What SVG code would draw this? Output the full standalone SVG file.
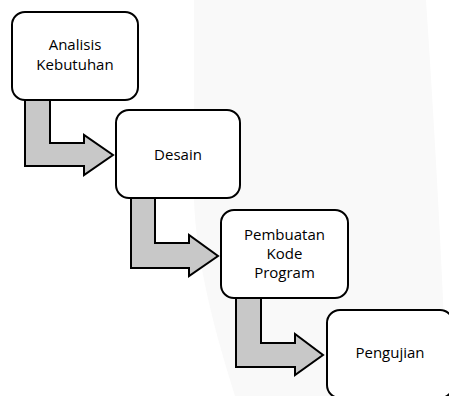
<svg xmlns="http://www.w3.org/2000/svg" width="449" height="396" viewBox="0 0 449 396">
<style>
.box{fill:#ffffff;stroke:#000000;stroke-width:2}
.arr{fill:#c8c8c8;stroke:#000000;stroke-width:2;stroke-linejoin:miter}
.t{font-family:"Open Sans","Liberation Sans",sans-serif;font-size:15px;fill:#000000;text-anchor:middle}
</style>
<rect x="0" y="0" width="449" height="396" fill="#ffffff"/>
<path d="M194,0 H426 C434,120 442,260 447,396 H235 C214,330 196,260 194,200 Z" fill="#f9f9f9"/>
<g id="connectors">
<path class="arr" d="M25,100 H50 V143 H84 V135 L113,155 L84,175 V166 H25 Z"/>
<path class="arr" d="M131,198 H155 V243 H189 V235 L218,256 L189,276 V268 H131 Z"/>
<path class="arr" d="M236,298 H261 V343 H295 V334 L323,355 L295,375 V367 H236 Z"/>
</g>
<g id="node-analisis">
<rect class="box" x="12" y="12" width="126" height="88" rx="13"/>
<text class="t" x="75" y="50">Analisis</text>
<text class="t" x="75" y="70">Kebutuhan</text>
</g>
<g id="node-desain">
<rect class="box" x="116" y="110" width="124" height="88" rx="13"/>
<text class="t" x="178" y="160">Desain</text>
</g>
<g id="node-pembuatan">
<rect class="box" x="221" y="210" width="127" height="88" rx="13"/>
<text class="t" x="284.5" y="240">Pembuatan</text>
<text class="t" x="284.5" y="259">Kode</text>
<text class="t" x="284.5" y="278">Program</text>
</g>
<g id="node-pengujian">
<rect class="box" x="327" y="310" width="126" height="88" rx="13"/>
<text class="t" x="390" y="358">Pengujian</text>
</g>
</svg>
